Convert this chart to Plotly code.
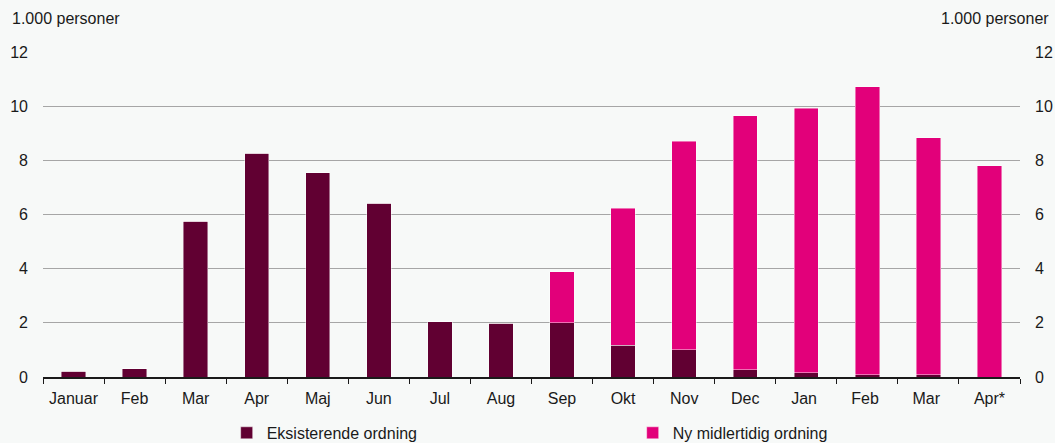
import plotly.graph_objects as go

months = ["Januar", "Feb", "Mar", "Apr", "Maj", "Jun", "Jul", "Aug", "Sep",
          "Okt", "Nov", "Dec", "Jan ", "Feb ", "Mar ", "Apr*"]
eksisterende = [0.22, 0.30, 5.76, 8.27, 7.55, 6.41, 2.04, 1.99, 2.00,
                1.17, 1.01, 0.27, 0.16, 0.09, 0.09, 0.0]
ny_midlertidig = [0, 0, 0, 0, 0, 0, 0, 0, 1.89,
                  5.07, 7.70, 9.37, 9.76, 10.62, 8.74, 7.80]
tick_vals = [0, 2, 4, 6, 8, 10, 12]

DARK = "#610032"
MAGENTA = "#E2007A"
BG = "#F7F9F8"
FONT = "Liberation Sans, Arial, sans-serif"

fig = go.Figure()
fig.add_trace(go.Bar(x=months, y=eksisterende, name="Eksisterende ordning",
                     marker=dict(color=DARK, line=dict(color="rgba(255,255,255,0.55)", width=0.8))))
fig.add_trace(go.Bar(x=months, y=ny_midlertidig, name="Ny midlertidig ordning",
                     marker=dict(color=MAGENTA, line=dict(color="rgba(255,255,255,0.55)", width=0.8))))
# helper trace so the mirrored right axis is drawn
fig.add_trace(go.Scatter(x=[months[0]], y=[0], yaxis="y2", mode="markers",
                         marker=dict(opacity=0), showlegend=False, hoverinfo="skip"))

fig.update_layout(
    width=1055, height=443,
    barmode="stack", bargap=0.6,
    paper_bgcolor=BG, plot_bgcolor=BG,
    font=dict(family=FONT, size=16, color="#1a1a1a"),
    margin=dict(l=43, r=35, t=52, b=66, autoexpand=False),
    xaxis=dict(range=[-0.5, len(months) - 0.5], showline=True, linecolor="#1a1a1a",
               linewidth=1.5, ticks="outside", tickson="boundaries", ticklen=5,
               tickcolor="#1a1a1a", showgrid=False, tickangle=0,
               ticklabelstandoff=6, automargin=False),
    yaxis=dict(range=[0, 12], tickvals=tick_vals, showgrid=True,
               gridcolor="#A6A6A6", gridwidth=1, zeroline=False,
               ticks="", ticklabelstandoff=14, showline=False, automargin=False),
    yaxis2=dict(range=[0, 12], tickvals=tick_vals, overlaying="y", side="right",
                showgrid=False, zeroline=False, showline=False,
                ticks="", ticklabelstandoff=14, automargin=False),
    legend=dict(orientation="h", x=0.188, xanchor="left", y=-0.172, yanchor="middle",
                entrywidth=361, entrywidthmode="pixels", bgcolor="rgba(0,0,0,0)",
                traceorder="normal", font=dict(size=16), itemclick=False),
    annotations=[
        dict(text="1.000 personer", xref="paper", yref="paper", x=(10 - 43) / 977,
             y=(377 - 18) / 325, xanchor="left", yanchor="middle", showarrow=False,
             font=dict(size=16)),
        dict(text="1.000 personer", xref="paper", yref="paper", x=(1051 - 43) / 977,
             y=(377 - 18) / 325, xanchor="right", yanchor="middle", showarrow=False,
             font=dict(size=16)),
    ],
)

fig.write_html("out.html", config={"displayModeBar": False},
               post_script="document.body.style.margin='0';document.body.style.overflow='hidden';")
